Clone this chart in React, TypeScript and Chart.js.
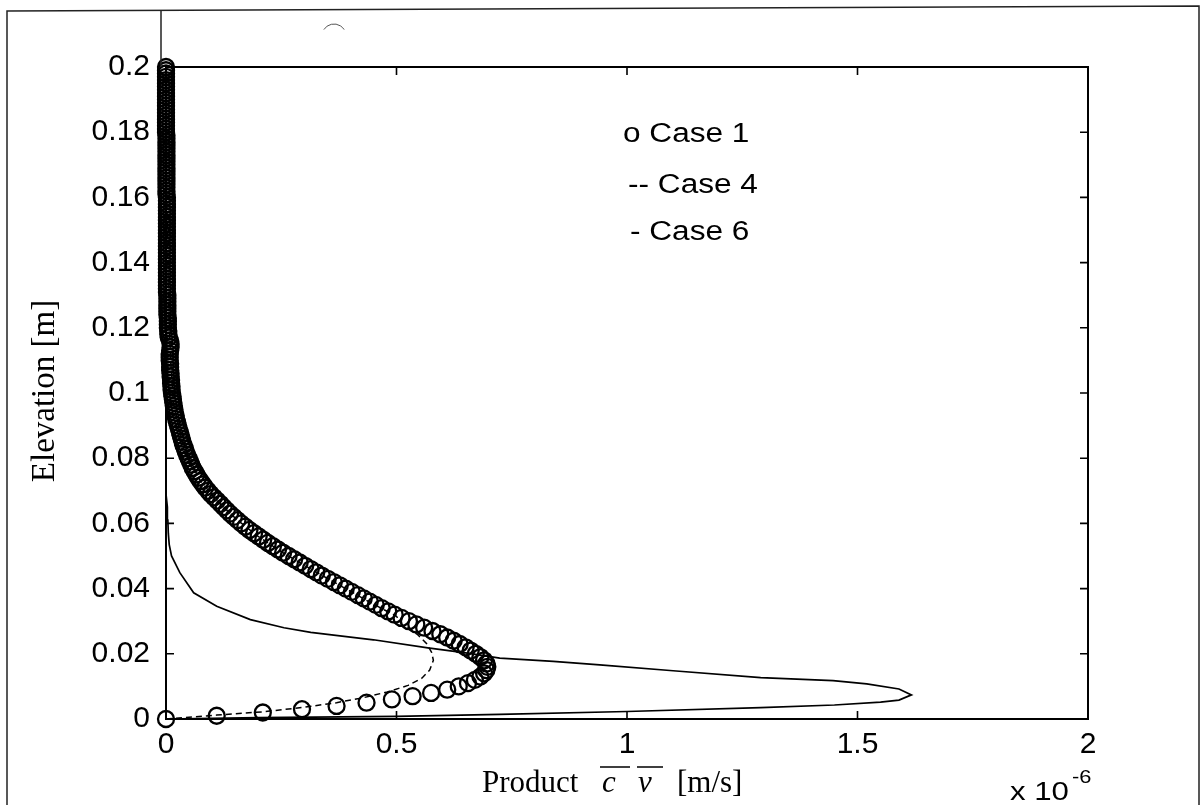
import React, { useEffect, useRef } from "react";
import { Chart, registerables } from "chart.js";

Chart.register(...registerables);

// Elevation grid of the Case 1 profile [m]
const case1Elevation = [
  0, 0.001, 0.002, 0.003, 0.004, 0.005, 0.006, 0.007, 0.008, 0.009,
  0.01, 0.011, 0.012, 0.013, 0.014, 0.015, 0.016, 0.017, 0.018, 0.019,
  0.02, 0.021, 0.022, 0.023, 0.024, 0.025, 0.026, 0.027, 0.028, 0.029,
  0.03, 0.031, 0.032, 0.033, 0.034, 0.035, 0.036, 0.037, 0.038, 0.039,
  0.04, 0.041, 0.042, 0.043, 0.044, 0.045, 0.046, 0.047, 0.048, 0.049,
  0.05, 0.051, 0.052, 0.053, 0.054, 0.055, 0.056, 0.057, 0.058, 0.059,
  0.06, 0.061, 0.062, 0.063, 0.064, 0.065, 0.066, 0.067, 0.068, 0.069,
  0.07, 0.071, 0.072, 0.073, 0.074, 0.075, 0.076, 0.077, 0.078, 0.079,
  0.08, 0.081, 0.082, 0.083, 0.084, 0.085, 0.086, 0.087, 0.088, 0.089,
  0.09, 0.091, 0.092, 0.093, 0.094, 0.095, 0.096, 0.097, 0.098, 0.099,
  0.1, 0.101, 0.102, 0.103, 0.104, 0.105, 0.106, 0.107, 0.108, 0.109,
  0.11, 0.111, 0.112, 0.113, 0.114, 0.115, 0.116, 0.117, 0.118, 0.119,
  0.12, 0.121, 0.122, 0.123, 0.124, 0.125, 0.126, 0.127, 0.128, 0.129,
  0.13, 0.131, 0.132, 0.133, 0.134, 0.135, 0.136, 0.137, 0.138, 0.139,
  0.14, 0.141, 0.142, 0.143, 0.144, 0.145, 0.146, 0.147, 0.148, 0.149,
  0.15, 0.151, 0.152, 0.153, 0.154, 0.155, 0.156, 0.157, 0.158, 0.159,
  0.16, 0.161, 0.162, 0.163, 0.164, 0.165, 0.166, 0.167, 0.168, 0.169,
  0.17, 0.171, 0.172, 0.173, 0.174, 0.175, 0.176, 0.177, 0.178, 0.179,
  0.18, 0.181, 0.182, 0.183, 0.184, 0.185, 0.186, 0.187, 0.188, 0.189,
  0.19, 0.191, 0.192, 0.193, 0.194, 0.195, 0.196, 0.197, 0.198, 0.199,
  0.2,
];

// Case 1 product c'v' [x 1e-6 m/s]
const case1Product = [
  0, 0.11, 0.21, 0.295, 0.37, 0.435, 0.49, 0.535, 0.575, 0.61,
  0.635, 0.655, 0.67, 0.682, 0.69, 0.695, 0.697, 0.695, 0.69, 0.682,
  0.672, 0.661, 0.65, 0.637, 0.624, 0.61, 0.595, 0.578, 0.56, 0.543,
  0.527, 0.511, 0.496, 0.482, 0.468, 0.455, 0.442, 0.429, 0.416, 0.403,
  0.39, 0.377, 0.364, 0.351, 0.338, 0.326, 0.314, 0.302, 0.29, 0.278,
  0.266, 0.254, 0.243, 0.232, 0.221, 0.211, 0.201, 0.191, 0.181, 0.172,
  0.163, 0.155, 0.147, 0.139, 0.132, 0.125, 0.118, 0.111, 0.104, 0.097,
  0.091, 0.085, 0.08, 0.075, 0.07, 0.066, 0.062, 0.058, 0.055, 0.052,
  0.049, 0.046, 0.043, 0.041, 0.038, 0.036, 0.034, 0.032, 0.03, 0.028,
  0.026, 0.024, 0.022, 0.021, 0.019, 0.018, 0.017, 0.016, 0.015, 0.014,
  0.013, 0.012, 0.012, 0.011, 0.011, 0.01, 0.01, 0.009, 0.009, 0.009,
  0.008, 0.008, 0.008, 0.009, 0.01, 0.01, 0.009, 0.006, 0.005, 0.005,
  0.004, 0.004, 0.004, 0.004, 0.003, 0.003, 0.003, 0.003, 0.003, 0.003,
  0.003, 0.002, 0.002, 0.002, 0.002, 0.002, 0.002, 0.002, 0.002, 0.002,
  0.002, 0.002, 0.002, 0.002, 0.002, 0.002, 0.002, 0.002, 0.002, 0.002,
  0.002, 0.002, 0.002, 0.002, 0.002, 0.002, 0.002, 0.002, 0.002, 0.002,
  0.002, 0.001, 0.001, 0.001, 0.001, 0.001, 0.001, 0.001, 0.001, 0.001,
  0.001, 0.001, 0.001, 0.001, 0.001, 0.001, 0.001, 0.001, 0.001, 0.001,
  0, 0, 0, 0, 0, 0, 0, 0, 0, 0,
  0, 0, 0, 0, 0, 0, 0, 0, 0, 0,
  0,
];

// Case 4 (dashed)
const case4Elevation = [
  0, 0.0012, 0.0022, 0.0036, 0.005, 0.0066, 0.0083, 0.0103, 0.0125, 0.015,
  0.018, 0.0205, 0.0232, 0.026, 0.0287, 0.0315, 0.036, 0.041, 0.046, 0.051,
  0.056, 0.061, 0.067, 0.073, 0.079, 0.087, 0.097, 0.11, 0.13, 0.16, 0.2,
];
const case4Product = [
  0, 0.11, 0.21, 0.3, 0.37, 0.43, 0.48, 0.525, 0.555, 0.572,
  0.58, 0.576, 0.565, 0.545, 0.513, 0.5, 0.44, 0.377, 0.314, 0.254,
  0.2, 0.155, 0.11, 0.075, 0.052, 0.032, 0.016, 0.01, 0.005, 0.002, 0,
];

// Case 6 (solid)
const case6Elevation = [
  0, 0.0004, 0.0008, 0.0014, 0.0023, 0.0035, 0.0043, 0.0052, 0.0058, 0.0074,
  0.0092, 0.0108, 0.0118, 0.0127, 0.0148, 0.0166, 0.0177, 0.0187, 0.0203, 0.0218,
  0.0243, 0.0266, 0.028, 0.0305, 0.0346, 0.0387, 0.0449, 0.05, 0.0535, 0.057,
  0.061, 0.065, 0.069,
];
const case6Product = [
  0, 0.2, 0.5, 0.724, 1.0, 1.29, 1.45, 1.55, 1.59, 1.617,
  1.59, 1.52, 1.447, 1.29, 1.1, 0.941, 0.84, 0.724, 0.65, 0.568,
  0.45, 0.314, 0.256, 0.183, 0.11, 0.06, 0.03, 0.012, 0.007, 0.005,
  0.004, 0.003, 0,
];

const xTickValues = [0, 0.5, 1, 1.5, 2];
const yTickValues = [0, 0.02, 0.04, 0.06, 0.08, 0.1, 0.12, 0.14, 0.16, 0.18, 0.2];
const legendLabels = ["o Case 1", "-- Case 4", "- Case 6"];
const yTitle = "Elevation [m]";
const xTitleWord = "Product";
const xTitleVars = ["c", "v"];
const xTitleUnit = "[m/s]";
const xMultiplier = "x 10";
const xExponent = "-6";

const SANS = "'Liberation Sans', Arial, Helvetica, sans-serif";
const SERIF = "'Liberation Serif', 'Times New Roman', serif";

function wideText(ctx: CanvasRenderingContext2D, text: string, x: number, y: number, sx: number) {
  ctx.save();
  ctx.translate(x, y);
  ctx.scale(sx, 1);
  ctx.fillText(text, 0, 0);
  ctx.restore();
}

const decorPlugin = {
  id: "decor",
  beforeDraw(chart: any) {
    const { ctx, width, height } = chart;
    ctx.save();
    ctx.fillStyle = "#fff";
    ctx.fillRect(0, 0, width, height);
    ctx.restore();
  },
  afterDraw(chart: any) {
    const { ctx, chartArea: a, scales } = chart;
    const H = chart.height;
    ctx.save();
    // outer frame of the scanned figure
    ctx.strokeStyle = "#222";
    ctx.lineWidth = 1.5;
    ctx.beginPath();
    ctx.moveTo(7, H);
    ctx.lineTo(7, 11);
    ctx.lineTo(1199, 6);
    ctx.lineTo(1199, H);
    ctx.stroke();
    ctx.beginPath();
    ctx.moveTo(a.left - 5, 11);
    ctx.lineTo(a.left - 5, a.top);
    ctx.stroke();
    // small scan artefact arc
    ctx.lineWidth = 1;
    ctx.strokeStyle = "#555";
    ctx.beginPath();
    ctx.arc(a.left + 168, 36, 12, Math.PI * 1.18, Math.PI * 1.82);
    ctx.stroke();

    // axes box
    ctx.strokeStyle = "#000";
    ctx.lineWidth = 2;
    ctx.strokeRect(a.left, a.top, a.right - a.left, a.bottom - a.top);

    // inward ticks
    const tl = 8;
    ctx.lineWidth = 1.6;
    ctx.beginPath();
    scales.x.ticks.forEach((t: any) => {
      const px = scales.x.getPixelForValue(t.value);
      ctx.moveTo(px, a.bottom);
      ctx.lineTo(px, a.bottom - tl);
      ctx.moveTo(px, a.top);
      ctx.lineTo(px, a.top + tl);
    });
    scales.y.ticks.forEach((t: any) => {
      const py = scales.y.getPixelForValue(t.value);
      ctx.moveTo(a.left, py);
      ctx.lineTo(a.left + tl, py);
      ctx.moveTo(a.right, py);
      ctx.lineTo(a.right - tl, py);
    });
    ctx.stroke();

    ctx.fillStyle = "#000";
    ctx.textBaseline = "alphabetic";
    ctx.textAlign = "left";

    // legend texts
    ctx.font = `27px ${SANS}`;
    const legendOffsets = [
      [457, 142],
      [462, 193],
      [464, 240],
    ];
    legendLabels.forEach((lab, i) => {
      wideText(ctx, lab, a.left + legendOffsets[i][0], legendOffsets[i][1], 1.17);
    });

    // y title
    ctx.save();
    ctx.translate(54, (a.top + a.bottom) / 2 - 2);
    ctx.rotate(-Math.PI / 2);
    ctx.textAlign = "center";
    ctx.font = `33px ${SERIF}`;
    ctx.fillText(yTitle, 0, 0);
    ctx.restore();

    // x title
    const cx = (a.left + a.right) / 2;
    const by = a.bottom + 73;
    ctx.font = `31px ${SERIF}`;
    ctx.fillText(xTitleWord, cx - 145, by);
    ctx.font = `italic 31px ${SERIF}`;
    ctx.fillText(xTitleVars[0], cx - 25, by);
    ctx.fillText(xTitleVars[1], cx + 11, by);
    ctx.font = `31px ${SERIF}`;
    ctx.fillText(xTitleUnit, cx + 50, by);
    ctx.lineWidth = 1.4;
    ctx.beginPath();
    ctx.moveTo(cx - 27, by - 25);
    ctx.lineTo(cx + 3, by - 25);
    ctx.moveTo(cx + 10, by - 25);
    ctx.lineTo(cx + 36, by - 25);
    ctx.stroke();

    // multiplier
    ctx.font = `26px ${SANS}`;
    wideText(ctx, xMultiplier, a.right - 78, 800, 1.2);
    ctx.font = `19px ${SANS}`;
    wideText(ctx, xExponent, a.right - 16, 783, 1.15);

    ctx.restore();
  },
};

export default function App() {
  const ref = useRef<HTMLCanvasElement | null>(null);

  useEffect(() => {
    if (!ref.current) return;
    const chart = new Chart(ref.current, {
      type: "scatter",
      data: {
        datasets: [
          {
            label: "Case 1",
            data: case1Elevation.map((e, i) => ({ x: case1Product[i], y: e })),
            showLine: false,
            pointStyle: "circle",
            pointRadius: 8,
            pointBorderWidth: 2.3,
            pointBorderColor: "#000",
            pointBackgroundColor: "rgba(0,0,0,0)",
            clip: false,
          } as any,
          {
            label: "Case 4",
            data: case4Elevation.map((e, i) => ({ x: case4Product[i], y: e })),
            showLine: true,
            borderColor: "#000",
            borderWidth: 1.5,
            borderDash: [6, 4],
            pointRadius: 0,
            tension: 0,
            clip: false,
          } as any,
          {
            label: "Case 6",
            data: case6Elevation.map((e, i) => ({ x: case6Product[i], y: e })),
            showLine: true,
            borderColor: "#000",
            borderWidth: 1.7,
            pointRadius: 0,
            tension: 0,
            clip: false,
          } as any,
        ],
      },
      options: {
        responsive: false,
        animation: false,
        devicePixelRatio: 1,
        layout: { padding: { top: 67, right: 113, left: 0, bottom: 0 } },
        plugins: {
          legend: { display: false },
          tooltip: { enabled: false },
        },
        scales: {
          x: {
            type: "linear",
            min: 0,
            max: 2,
            afterBuildTicks: (s: any) => {
              s.ticks = xTickValues.map((v) => ({ value: v }));
            },
            afterFit: (s: any) => {
              s.height = 86;
            },
            grid: { display: false, drawTicks: false, tickLength: 0 },
            border: { display: false },
            ticks: {
              autoSkip: false,
              maxRotation: 0,
              padding: 8,
              color: "#000",
              font: { family: SANS, size: 30 },
              callback: (v: any) => String(v),
            },
          },
          y: {
            type: "linear",
            min: 0,
            max: 0.2,
            afterBuildTicks: (s: any) => {
              s.ticks = yTickValues.map((v) => ({ value: v }));
            },
            afterFit: (s: any) => {
              s.width = 166;
            },
            grid: { display: false, drawTicks: false, tickLength: 0 },
            border: { display: false },
            ticks: {
              autoSkip: false,
              padding: 16,
              color: "#000",
              font: { family: SANS, size: 30 },
              callback: (v: any) => String(v),
            },
          },
        },
      },
      plugins: [decorPlugin],
    });
    return () => chart.destroy();
  }, []);

  return (
    <div style={{ position: "absolute", left: 0, top: 0, width: 1201, height: 805, background: "#fff" }}>
      <canvas ref={ref} width={1201} height={805} style={{ display: "block" }} />
    </div>
  );
}
